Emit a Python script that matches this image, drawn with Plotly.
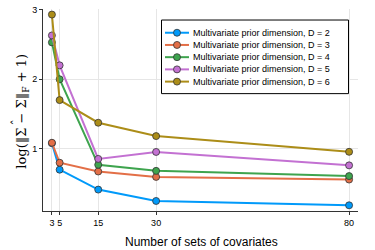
import plotly.graph_objects as go

x_vals = [3, 5, 15, 30, 80]
d2 = [1.08, 0.70, 0.414, 0.25, 0.188]
d3 = [1.087, 0.80, 0.674, 0.596, 0.558]
d4 = [2.53, 2.00, 0.77, 0.683, 0.608]
d5 = [2.63, 2.20, 0.855, 0.955, 0.762]
d6 = [2.93, 1.70, 1.375, 1.183, 0.957]
series = [("Multivariate prior dimension, D = 2", d2, "#009AFA"),
          ("Multivariate prior dimension, D = 3", d3, "#E36F47"),
          ("Multivariate prior dimension, D = 4", d4, "#3EA44E"),
          ("Multivariate prior dimension, D = 5", d5, "#C371D2"),
          ("Multivariate prior dimension, D = 6", d6, "#AC8D18")]
x_ticks = [3, 5, 15, 30, 80]
y_ticks = [1, 2, 3]
x_title = "Number of sets of covariates"
y_title = "log(‖Σ − Σ‖<sub>F</sub> + 1)"

W, H = 375, 250
ML, MT = 43, 9
MR = W - 358
MB = H - 210.7
PW, PH = W - ML - MR, H - MT - MB


def px(xp):
    return (xp - ML) / PW


def py(yp):
    return (H - MB - yp) / PH


fig = go.Figure()
for name, ys, col in series:
    fig.add_trace(go.Scatter(
        x=x_vals, y=ys, name=name, mode="lines+markers",
        line=dict(color=col, width=2),
        marker=dict(color=col, size=7, line=dict(color="#333333", width=0.8)),
        showlegend=False, hoverinfo="skip",
    ))

# manual legend (compact, like the reference)
shapes = [dict(type="rect", xref="paper", yref="paper",
               x0=px(161.5), x1=px(348.5), y0=py(93.5), y1=py(20),
               line=dict(color="#000000", width=1), fillcolor="white", layer="above")]
annotations = []
for i, (name, ys, col) in enumerate(series):
    yc = py(32.7 + 12.2 * i)
    shapes.append(dict(type="line", xref="paper", yref="paper",
                       x0=px(165), x1=px(189), y0=yc, y1=yc,
                       line=dict(color=col, width=2), layer="above"))
    shapes.append(dict(type="circle", xref="paper", yref="paper",
                       xsizemode="pixel", ysizemode="pixel",
                       xanchor=px(177), yanchor=yc,
                       x0=-3.5, x1=3.5, y0=-3.5, y1=3.5,
                       fillcolor=col, line=dict(color="#333333", width=0.8), layer="above"))
    annotations.append(dict(xref="paper", yref="paper", x=px(191), y=yc,
                            xanchor="left", yanchor="middle", showarrow=False,
                            text=name, font=dict(size=9, color="#000000")))

# axis titles as annotations
annotations.append(dict(xref="paper", yref="paper", x=px(201.5), y=py(242),
                        xanchor="center", yanchor="middle", showarrow=False,
                        text=x_title, font=dict(size=12, color="#000000")))
annotations.append(dict(xref="paper", yref="paper", x=px(22.5), y=py(111),
                        xanchor="center", yanchor="middle", showarrow=False,
                        textangle=-90, text=y_title,
                        font=dict(size=13, color="#000000",
                                  family="DejaVu Serif, Liberation Serif, serif")))
# hat over the second Sigma
annotations.append(dict(xref="paper", yref="paper", x=px(16.5), y=py(121.5),
                        xanchor="center", yanchor="middle", showarrow=False,
                        textangle=-90, text="ˆ",
                        font=dict(size=12, color="#000000",
                                  family="DejaVu Serif, Liberation Serif, serif")))

fig.update_layout(
    width=W, height=H,
    margin=dict(l=ML, r=MR, t=MT, b=MB, autoexpand=False),
    paper_bgcolor="white", plot_bgcolor="white",
    font=dict(family="Liberation Sans, Arial, sans-serif", color="#000000"),
    showlegend=False, hovermode=False,
    shapes=shapes, annotations=annotations,
)
fig.update_xaxes(
    range=[0.69, 82.31], tickvals=x_ticks, ticktext=[str(v) for v in x_ticks],
    showgrid=True, gridcolor="#e6e6e6", gridwidth=0.7, zeroline=False,
    showline=True, linecolor="#333333", linewidth=1,
    ticks="outside", ticklen=3, tickcolor="#333333",
    tickfont=dict(size=9), automargin=False,
)
fig.update_yaxes(
    range=[0.106, 3.01], tickvals=y_ticks, ticktext=[str(v) for v in y_ticks],
    showgrid=True, gridcolor="#e6e6e6", gridwidth=0.7, zeroline=False,
    showline=True, linecolor="#333333", linewidth=1,
    ticks="outside", ticklen=3, tickcolor="#333333",
    tickfont=dict(size=9), automargin=False,
)
fig.write_html("out.html", config={"displayModeBar": False},
               post_script="document.body.style.margin='0';document.body.style.overflow='hidden';")
